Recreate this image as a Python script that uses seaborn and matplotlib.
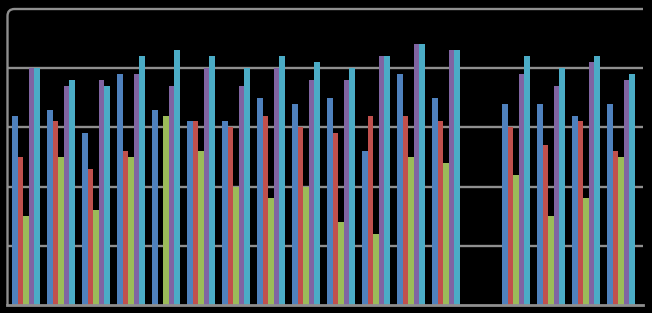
import numpy as np
import pandas as pd
import matplotlib
matplotlib.use("Agg")
import matplotlib.pyplot as plt
from matplotlib.path import Path
from matplotlib.patches import PathPatch
import seaborn as sns

categories = [str(i) for i in range(1, 19)]
series = ["Series 1", "Series 2", "Series 3", "Series 4", "Series 5"]
nan = np.nan
blue = [3.2, 3.3, 2.9, 3.9, 3.3, 3.1, 3.1, 3.5, 3.4, 3.5, 2.6, 3.9, 3.5, nan, 3.4, 3.4, 3.2, 3.4]
red = [2.5, 3.1, 2.3, 2.6, 0.0, 3.1, 3.0, 3.2, 3.0, 2.9, 3.2, 3.2, 3.1, nan, 3.0, 2.7, 3.1, 2.6]
green = [1.5, 2.5, 1.6, 2.5, 3.2, 2.6, 2.0, 1.8, 2.0, 1.4, 1.2, 2.5, 2.4, nan, 2.2, 1.5, 1.8, 2.5]
purple = [4.0, 3.7, 3.8, 3.9, 3.7, 4.0, 3.7, 4.0, 3.8, 3.8, 4.2, 4.4, 4.3, nan, 3.9, 3.7, 4.1, 3.8]
cyan = [4.0, 3.8, 3.7, 4.2, 4.3, 4.2, 4.0, 4.2, 4.1, 4.0, 4.2, 4.4, 4.3, nan, 4.2, 4.0, 4.2, 3.9]
gridlevels = [1, 2, 3, 4, 5]

colors = ["#4F81BD", "#C0504D", "#9BBB59", "#8064A2", "#4BACC6"]

rows = []
for name, vals in zip(series, [blue, red, green, purple, cyan]):
    for c, v in zip(categories, vals):
        rows.append({"cat": c, "series": name, "value": v})
df = pd.DataFrame(rows)

W, H = 652, 313
fig = plt.figure(figsize=(W / 100, H / 100), dpi=100, facecolor="black")
ax = fig.add_axes([7 / W, 8 / H, (643 - 7) / W, (305 - 6) / H])
ax.set_facecolor("black")

grid_c = "#8f8f8f"
for g in gridlevels[:-1]:
    ax.axhline(g, color=grid_c, lw=1.7, zorder=0)

sns.barplot(data=df, x="cat", y="value", hue="series", order=categories,
            hue_order=series, palette=colors, width=0.8, saturation=1,
            errorbar=None, legend=False, ax=ax, zorder=2, linewidth=0)

ax.set_xlim(-0.54, 17.63)
ax.set_ylim(0, 5.05)
ax.set_xlabel("")
ax.set_ylabel("")
ax.set_xticks([])
ax.set_yticks([])
for s in ["top", "right", "left"]:
    ax.spines[s].set_visible(False)
ax.spines["bottom"].set_color(grid_c)
ax.spines["bottom"].set_linewidth(2)

# left axis line with rounded corner joining the top gridline
x0 = 7.5 / 100
ytop = (H - 9) / 100
ybot = (H - 305) / 100
r = 0.07
xr = 643 / 100
verts = [(x0, ybot), (x0, ytop - r), (x0, ytop), (x0 + r, ytop), (xr, ytop)]
codes = [Path.MOVETO, Path.LINETO, Path.CURVE3, Path.CURVE3, Path.LINETO]
fig.add_artist(PathPatch(Path(verts, codes), transform=fig.dpi_scale_trans,
                         fill=False, edgecolor=grid_c, lw=1.7))

fig.savefig("out.png", dpi=100, facecolor="black")
